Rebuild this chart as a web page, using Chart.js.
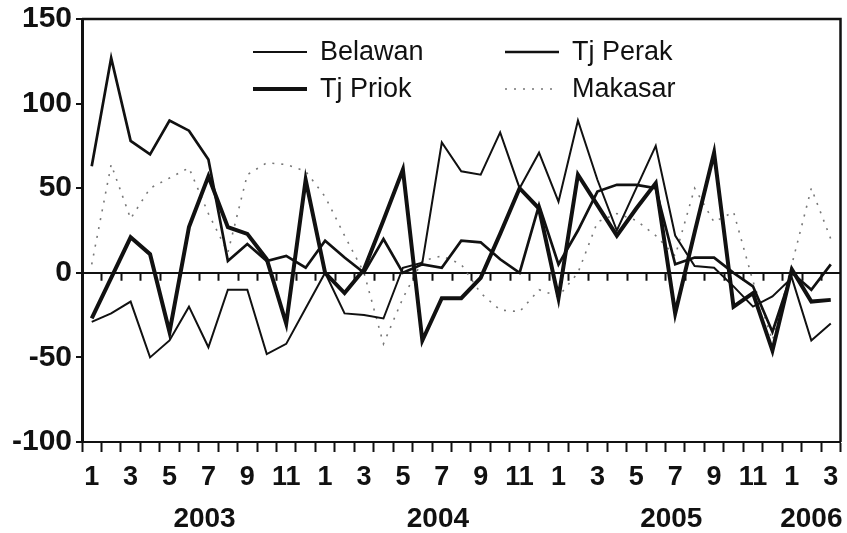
<!DOCTYPE html>
<html><head><meta charset="utf-8">
<script src="https://cdn.jsdelivr.net/npm/chart.js@4.4.0/dist/chart.umd.min.js"></script>
<style>html,body{margin:0;padding:0;background:#fff;}#wrap{width:847px;height:533px;}</style>
</head><body><div id="wrap"><canvas id="c" width="847" height="533"></canvas></div>
<script>
// ---- data (monthly, Jan 2003 .. Mar 2006) ----
const years = ['2003', '2004', '2005', '2006'];
const monthsInYear = [12, 12, 12, 3];
const yTicks = [-100, -50, 0, 50, 100, 150];
const seriesNames = ['Belawan', 'Tj Perak', 'Tj Priok', 'Makasar'];

const belawan = [-29, -24, -17, -50, -40, -20, -44, -10, -10, -48, -42, -21,
                   0, -24, -25, -27, 3, 6, 77, 60, 58, 83, 50, 71,
                  42, 90, 55, 25, 50, 75, 22, 4, 3, -8, -20, -14,
                  -3, -40, -30];
const tjPerak = [63, 127, 78, 70, 90, 84, 67, 7, 17, 7, 10, 3,
                 19, 9, 0, 20, 0, 5, 3, 19, 18, 8, 0, 40,
                  5, 25, 48, 52, 52, 50, 5, 9, 9, 0, -8, -35,
                  0, -10, 5];
const tjPriok = [-27, -3, 21, 11, -35, 27, 57, 27, 23, 8, -30, 55,
                   0, -12, 2, 31, 61, -40, -15, -15, -3, 23, 50, 38,
                 -15, 58, 40, 22, 38, 53, -24, 24, 71, -20, -12, -46,
                   2, -17, -16];
const makasar = [5, 64, 32, 50, 56, 62, 35, 12, 58, 65, 64, 60,
                 45, 22, 0, -42, -15, 7, 10, 5, -12, -22, -23, -10,
                -14, 0, 30, 35, 31, 22, 10, 50, 30, 36, -5, -40,
                  5, 50, 20];

// month tick labels built from the year list (odd months only)
const monthLabels = [];
monthsInYear.forEach(n => { for (let m = 1; m <= n; m++) monthLabels.push(m % 2 === 1 ? String(m) : ''); });
// year label positions: middle of each year's span of months
const yearPos = [];
let start = 0;
monthsInYear.forEach(n => { yearPos.push(start + (n - 1) / 2 + (n > 6 ? 0.3 : 0)); start += n; });

const FONT = "'Liberation Sans', Arial, sans-serif";
const INK = '#111';

const styles = {
  'Belawan':  { borderWidth: 2,   borderColor: INK, borderDash: [] },
  'Tj Perak': { borderWidth: 2.7, borderColor: INK, borderDash: [] },
  'Tj Priok': { borderWidth: 4,   borderColor: INK, borderDash: [] },
  'Makasar':  { borderWidth: 1.6, borderColor: '#777', borderDash: [2, 7] }
};
const values = { 'Belawan': belawan, 'Tj Perak': tjPerak, 'Tj Priok': tjPriok, 'Makasar': makasar };

const datasets = seriesNames.map(name => Object.assign({
  label: name, data: values[name], fill: false, tension: 0,
  pointRadius: 0, pointHoverRadius: 0, borderCapStyle: 'butt', borderJoinStyle: 'miter'
}, styles[name]));

// legend placement (2 columns x 2 rows)
const legendLayout = [
  { name: 'Belawan',  col: 0, row: 0 },
  { name: 'Tj Perak', col: 1, row: 0 },
  { name: 'Tj Priok', col: 0, row: 1 },
  { name: 'Makasar',  col: 1, row: 1 }
];

const decorPlugin = {
  id: 'decor',
  afterDatasetsDraw(chart) {
    const { ctx, chartArea: a, scales } = chart;
    const xs = scales.x, ys = scales.y;
    ctx.save();
    // frame top & right
    ctx.strokeStyle = INK; ctx.lineWidth = 2.5;
    ctx.beginPath();
    ctx.moveTo(a.left, a.top); ctx.lineTo(a.right, a.top); ctx.lineTo(a.right, a.bottom);
    ctx.stroke();
    // zero line ticks (month boundaries)
    const y0 = ys.getPixelForValue(0);
    const p0 = xs.getPixelForValue(0), step = xs.getPixelForValue(1) - p0;
    ctx.lineWidth = 2;
    ctx.beginPath();
    for (let k = 1; k < monthLabels.length; k++) {
      const px = Math.round(p0 + (k - 0.5) * step) + 0.5;
      ctx.moveTo(px, y0); ctx.lineTo(px, y0 + 8);
    }
    ctx.stroke();
    // legend
    ctx.font = '27px ' + FONT;
    ctx.textBaseline = 'middle';
    ctx.fillStyle = INK;
    legendLayout.forEach(it => {
      const st = styles[it.name];
      const sx = a.left + (it.col === 0 ? 171 : 423);
      const sy = a.top + (it.row === 0 ? 33 : 70);
      ctx.strokeStyle = st.borderColor;
      ctx.lineWidth = st.borderWidth;
      ctx.setLineDash(st.borderDash);
      ctx.beginPath(); ctx.moveTo(sx, sy); ctx.lineTo(sx + 54, sy); ctx.stroke();
      ctx.setLineDash([]);
      ctx.fillText(it.name, sx + 67, sy + 1);
    });
    ctx.restore();
  }
};

new Chart(document.getElementById('c'), {
  type: 'line',
  data: { labels: monthLabels, datasets },
  options: {
    responsive: false, animation: false, devicePixelRatio: 1,
    layout: { padding: { top: 19, right: 6.5, left: 0, bottom: 0 } },
    plugins: { legend: { display: false }, tooltip: { enabled: false } },
    scales: {
      x: {
        type: 'category', offset: true, weight: 0, position: 'bottom',
        grid: { offset: true, drawOnChartArea: false, drawTicks: true, tickLength: 10, tickWidth: 2, tickColor: INK },
        border: { display: true, color: INK, width: 2 },
        ticks: { autoSkip: false, maxRotation: 0, minRotation: 0, padding: 9, color: INK,
                 font: { family: FONT, size: 27, weight: 'bold' } },
        afterFit(s) { s.height = 49; s.paddingLeft = 0; s.paddingRight = 0; }
      },
      x2: {
        type: 'linear', position: 'bottom', weight: 1, min: -0.5, max: 38.5,
        grid: { display: false }, border: { display: false },
        afterBuildTicks(s) { s.ticks = yearPos.map(v => ({ value: v })); },
        ticks: { autoSkip: false, maxRotation: 0, minRotation: 0, padding: 3, color: INK,
                 font: { family: FONT, size: 28, weight: 'bold' },
                 callback: (v, i) => years[i] },
        afterFit(s) { s.height = 42; s.paddingLeft = 0; s.paddingRight = 0; }
      },
      y: {
        min: yTicks[0], max: yTicks[yTicks.length - 1],
        afterBuildTicks(s) { s.ticks = yTicks.map(v => ({ value: v })); },
        grid: {
          drawTicks: true, tickLength: 6, tickWidth: 2, tickColor: INK,
          color: c => (c.tick && c.tick.value === 0) ? INK : 'rgba(0,0,0,0)',
          lineWidth: c => (c.tick && c.tick.value === 0) ? 2 : 0
        },
        border: { display: true, color: INK, width: 3 },
        ticks: { padding: 4, color: INK, font: { family: FONT, size: 30, weight: 'bold' } },
        afterFit(s) { s.width = 82; s.paddingTop = 0; s.paddingBottom = 0; }
      }
    }
  },
  plugins: [decorPlugin]
});
</script></body></html>
